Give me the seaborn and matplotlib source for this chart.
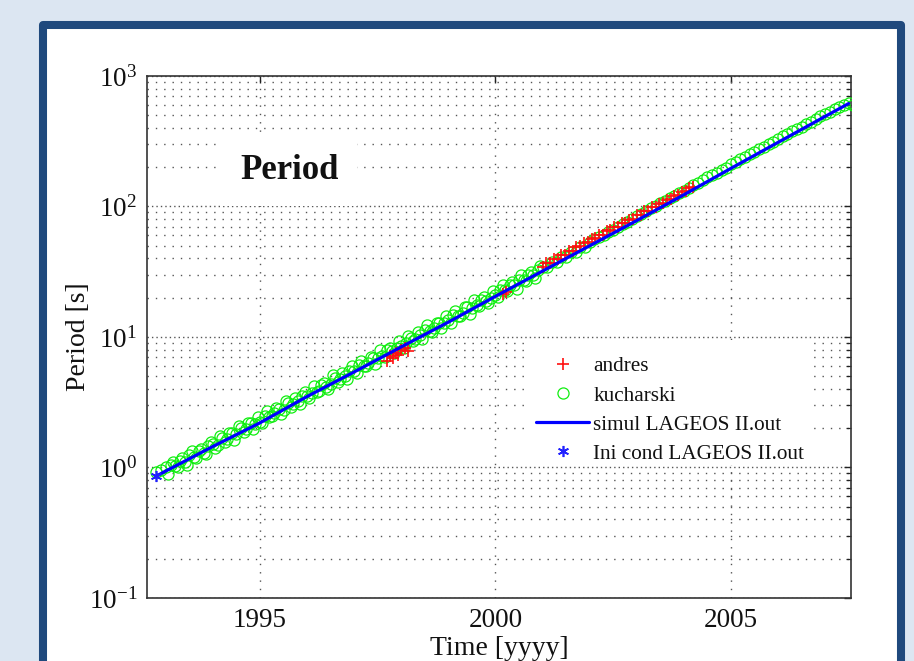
import matplotlib
matplotlib.use("Agg")
import numpy as np
import pandas as pd
import seaborn as sns
import matplotlib.pyplot as plt
from matplotlib.patches import Rectangle
from matplotlib.lines import Line2D
from matplotlib.ticker import LogLocator, FixedLocator, NullFormatter, FuncFormatter

# ---------------- data ----------------
simul_years = [1992.8, 1993.0, 1994.0, 1995.0, 1996.0, 1997.0, 1998.0, 1999.0, 2000.0,
               2001.0, 2002.0, 2003.0, 2004.0, 2005.0, 2006.0, 2007.0, 2007.5]
simul_period = [0.86, 0.94, 1.45, 2.2, 3.5, 5.4, 8.4, 13.0, 20.5,
                32.0, 50.0, 78.0, 123.0, 196.0, 310.0, 490.0, 615.0]

ini_years = [1992.8]
ini_period = [0.86]

kuch_years = [1992.8, 1992.9,
              1993.0, 1993.1, 1993.2, 1993.3, 1993.4, 1993.5, 1993.6, 1993.7, 1993.8, 1993.9,
              1994.0, 1994.1, 1994.2, 1994.3, 1994.4, 1994.5, 1994.6, 1994.7, 1994.8, 1994.9,
              1995.0, 1995.1, 1995.2, 1995.3, 1995.4, 1995.5, 1995.6, 1995.7, 1995.8, 1995.9,
              1996.0, 1996.1, 1996.2, 1996.3, 1996.4, 1996.5, 1996.6, 1996.7, 1996.8, 1996.9,
              1997.0, 1997.1, 1997.2, 1997.3, 1997.4, 1997.5, 1997.6, 1997.7, 1997.8, 1997.9,
              1998.0, 1998.1, 1998.2, 1998.3, 1998.4, 1998.5, 1998.6, 1998.7, 1998.8, 1998.9,
              1999.0, 1999.1, 1999.2, 1999.3, 1999.4, 1999.5, 1999.6, 1999.7, 1999.8, 1999.9,
              2000.0, 2000.1, 2000.2, 2000.3, 2000.4, 2000.5, 2000.6, 2000.7, 2000.8, 2000.9,
              2001.0, 2001.1, 2001.2, 2001.3, 2001.4, 2001.5, 2001.6, 2001.7, 2001.8, 2001.9,
              2002.0, 2002.1, 2002.2, 2002.3, 2002.4, 2002.5, 2002.6, 2002.7, 2002.8, 2002.9,
              2003.0, 2003.1, 2003.2, 2003.3, 2003.4, 2003.5, 2003.6, 2003.7, 2003.8, 2003.9,
              2004.0, 2004.1, 2004.2, 2004.3, 2004.4, 2004.5, 2004.6, 2004.7, 2004.8, 2004.9,
              2005.0, 2005.1, 2005.2, 2005.3, 2005.4, 2005.5, 2005.6, 2005.7, 2005.8, 2005.9,
              2006.0, 2006.1, 2006.2, 2006.3, 2006.4, 2006.5, 2006.6, 2006.7, 2006.8, 2006.9,
              2007.0, 2007.1, 2007.2, 2007.3, 2007.4, 2007.5, 2007.6,
              1993.05, 1993.15, 1993.25, 1993.35, 1993.45, 1993.55, 1993.65, 1993.75, 1993.85, 1993.95,
              1994.05, 1994.15, 1994.25, 1994.35, 1994.45, 1994.55, 1994.65, 1994.75, 1994.85, 1994.95,
              1995.05, 1995.15, 1995.25, 1995.35, 1995.45, 1995.55, 1995.65, 1995.75, 1995.85, 1995.95,
              1996.05, 1996.15, 1996.25, 1996.35, 1996.45, 1996.55, 1996.65, 1996.75, 1996.85, 1996.95,
              1997.05, 1997.15, 1997.25, 1997.35, 1997.45, 1997.55, 1997.65, 1997.75, 1997.85, 1997.95,
              1998.05, 1998.15, 1998.25, 1998.35, 1998.45, 1998.55, 1998.65, 1998.75, 1998.85, 1998.95,
              1999.05, 1999.15, 1999.25, 1999.35, 1999.45, 1999.55, 1999.65, 1999.75, 1999.85, 1999.95,
              2000.05, 2000.15, 2000.25, 2000.35, 2000.45, 2000.55, 2000.65, 2000.75, 2000.85, 2000.95]
kuch_period = [0.92, 0.95,
               1.00, 1.04, 1.02, 1.12, 1.10, 1.24, 1.20, 1.34, 1.30, 1.45,
               1.52, 1.50, 1.68, 1.64, 1.84, 1.80, 2.00, 1.96, 2.18, 2.14,
               2.25, 2.48, 2.44, 2.60, 2.80, 2.78, 3.10, 3.05, 3.25, 3.52,
               3.50, 3.70, 3.82, 4.25, 4.15, 4.40, 4.85, 4.78, 5.02, 5.50,
               5.45, 6.05, 6.00, 6.30, 6.95, 6.85, 7.20, 7.90, 7.80, 8.20,
               8.55, 9.05, 9.90, 9.70, 10.3, 11.3, 11.1, 11.7, 12.9, 12.7,
               13.4, 14.8, 14.6, 15.3, 16.9, 16.7, 17.5, 19.3, 19.0, 20.0,
               21.0, 23.0, 22.8, 25.2, 25.0, 27.5, 27.2, 30.0, 29.8, 32.8,
               34.2, 34.5, 37.5, 37.4, 41.0, 41.0, 44.8, 44.7, 49.0, 49.0,
               53.5, 56.0, 58.5, 61.0, 64.0, 66.5, 70.0, 73.0, 76.5, 80.0,
               84.0, 88.0, 92.0, 97.0, 101.0, 106.0, 111.0, 116.0, 121.0, 126.0,
               132.0, 139.0, 146.0, 152.0, 160.0, 167.0, 174.0, 182.0, 190.0, 198.0,
               210.0, 220.0, 231.0, 241.0, 252.0, 263.0, 275.0, 288.0, 301.0, 314.0,
               328.0, 344.0, 360.0, 376.0, 393.0, 410.0, 428.0, 448.0, 468.0, 490.0,
               510.0, 530.0, 556.0, 580.0, 603.0, 625.0, 600.0,
               0.895, 1.11, 1.01, 1.18, 1.05, 1.34, 1.19, 1.39, 1.26, 1.57,
               1.40, 1.73, 1.58, 1.84, 1.63, 2.09, 1.86, 2.18, 1.97, 2.45,
               2.18, 2.70, 2.46, 2.87, 2.55, 3.25, 2.91, 3.39, 3.07, 3.81,
               3.40, 4.21, 3.83, 4.47, 3.97, 5.07, 4.53, 5.29, 4.79, 5.95,
               5.30, 6.56, 5.98, 6.97, 6.19, 7.91, 7.07, 8.25, 7.48, 9.28,
               8.26, 10.2, 9.32, 10.9, 9.65, 12.3, 11.0, 12.9, 11.7, 14.5,
               12.9, 15.9, 14.5, 16.9, 15.0, 19.2, 17.2, 20.1, 18.2, 22.6,
               20.1, 24.9, 22.7, 26.4, 23.5, 30.0, 26.8, 31.3, 28.3, 35.2]

andres_years = [1997.70, 1997.76, 1997.82, 1997.88, 1997.94, 1998.00, 1998.08, 1998.15,
                2000.15, 2000.22,
                2001.00, 2001.08, 2001.16, 2001.24, 2001.32, 2001.40, 2001.48, 2001.56,
                2001.64, 2001.72, 2001.80, 2001.88, 2001.96, 2002.04, 2002.12, 2002.20,
                2002.28, 2002.36, 2002.44, 2002.52, 2002.60, 2002.68, 2002.76, 2002.84,
                2002.92, 2003.00, 2003.08, 2003.16, 2003.24, 2003.32, 2003.40, 2003.48,
                2003.56, 2003.64, 2003.72, 2003.80, 2003.88, 2003.96, 2004.04, 2004.12,
                2004.20]
andres_period = [6.6, 7.2, 6.9, 7.6, 7.3, 7.9, 8.2, 7.8,
                 21.5, 22.0,
                 34.5, 36.8, 36.6, 39.5, 39.8, 42.5, 42.8, 45.5,
                 46.0, 48.8, 49.5, 52.5, 53.0, 56.5, 57.0, 60.5,
                 61.0, 65.0, 65.5, 69.5, 70.0, 74.5, 75.0, 79.5,
                 80.5, 85.5, 86.5, 92.0, 92.5, 98.5, 99.5, 105.0,
                 106.0, 113.0, 114.0, 121.0, 122.0, 130.0, 131.0, 139.0,
                 141.0]

x_ticks = [1995, 2000, 2005]
y_major = [0.1, 1, 10, 100, 1000]

# ---------------- style ----------------
sns.set_theme(style="white")
plt.rcParams["font.family"] = ["Liberation Serif", "DejaVu Serif"]
plt.rcParams["mathtext.fontset"] = "custom"
plt.rcParams["mathtext.rm"] = "Liberation Serif"
plt.rcParams["mathtext.it"] = "Liberation Serif:italic"
plt.rcParams["mathtext.bf"] = "Liberation Serif:bold"

BG = "#dce6f2"
FRAME = "#1f497d"
RED = "#ff1010"
GREEN = "#10ee10"
BLUE = "#0000ff"

fig = plt.figure(figsize=(9.14, 6.61), dpi=100, facecolor=BG)
panel = Rectangle((43 / 914, -0.1), (901 - 43) / 914, 1 - 25 / 661 + 0.1,
                  transform=fig.transFigure, facecolor="white",
                  edgecolor=FRAME, linewidth=5.8, joinstyle="round", zorder=-10)
fig.patches.append(panel)

ax = fig.add_axes([147 / 914, 1 - 598 / 661, (851 - 147) / 914, (598 - 76) / 661])
ax.set_zorder(1)
ax.set_facecolor("white")

# data series
sns.lineplot(x=kuch_years, y=kuch_period, ax=ax, estimator=None, sort=False,
             linestyle="none", marker="o", markersize=8, markeredgewidth=0.9,
             markerfacecolor="none", markeredgecolor=GREEN, color=GREEN, zorder=3)
sns.lineplot(x=andres_years, y=andres_period, ax=ax, estimator=None, sort=False,
             linestyle="none", marker="+", markersize=8, markeredgewidth=1.2,
             color=RED, markeredgecolor=RED, zorder=3.5)
sns.lineplot(x=simul_years, y=simul_period, ax=ax, estimator=None, sort=False,
             color=BLUE, linewidth=2.3, zorder=4)
sns.lineplot(x=ini_years, y=ini_period, ax=ax, estimator=None, sort=False,
             linestyle="none", marker=(6, 2, 0), markersize=8, markeredgewidth=1.2,
             color="#2020ff", markeredgecolor="#2020ff", zorder=5)

ax.set_yscale("log")
ax.set_xlim(1992.6, 2007.55)
ax.set_ylim(0.1, 1000)

ax.xaxis.set_major_locator(FixedLocator(x_ticks))
ax.set_xticklabels([str(t) for t in x_ticks])
ax.yaxis.set_major_locator(FixedLocator(y_major))
ax.yaxis.set_major_formatter(FuncFormatter(lambda v, p: r"$10^{%d}$" % int(round(np.log10(v)))))
ax.yaxis.set_minor_locator(LogLocator(base=10, subs=np.arange(2, 10), numticks=20))
ax.yaxis.set_minor_formatter(NullFormatter())

ax.tick_params(axis="both", which="both", direction="in", top=True, right=True,
               colors="#222222", labelcolor="#111111")
ax.tick_params(axis="both", which="major", length=5, width=1.0, labelsize=19.5, pad=7)
ax.tick_params(axis="y", which="minor", length=3.5, width=0.9)
ax.tick_params(axis="x", which="minor", bottom=False, top=False)

for s in ax.spines.values():
    s.set_visible(True)
    s.set_color("#333333")
    s.set_linewidth(1.2)

ax.set_axisbelow(True)
ax.xaxis.grid(True, which="major", color="#555555", linewidth=1.0, linestyle=(0, (1, 5)))
ax.yaxis.grid(True, which="major", color="#555555", linewidth=1.0, linestyle=(0, (1, 2.2)))
ax.yaxis.grid(True, which="minor", color="#555555", linewidth=1.0, linestyle=(0, (1, 5)))

ax.set_xlabel("Time [yyyy]", fontsize=20, color="#111111", labelpad=2.5)
ax.set_ylabel("Period [s]", fontsize=20, color="#111111")
ax.yaxis.set_label_coords(-0.080, 0.5)

ax.text(1995.62, 190, "Period", fontsize=25, fontweight="bold", ha="center", va="center",
        color="#111111", zorder=6,
        bbox=dict(boxstyle="square,pad=0.55", facecolor="white", edgecolor="none"))

# white legend box (covers the grid like the original)
ax.add_patch(Rectangle((0.54, 0.255), 0.407, 0.239, transform=ax.transAxes,
                       facecolor="white", edgecolor="none", zorder=2))

handles = [
    Line2D([], [], linestyle="none", marker="+", markersize=8, markeredgewidth=1.2, color=RED),
    Line2D([], [], linestyle="none", marker="o", markersize=8, markeredgewidth=0.9,
           markerfacecolor="none", markeredgecolor=GREEN),
    Line2D([], [], color=BLUE, linewidth=2.3),
    Line2D([], [], linestyle="none", marker=(6, 2, 0), markersize=8, markeredgewidth=1.2, color="#2020ff"),
]
labels = ["andres", "kucharski", "simul LAGEOS II.out", "Ini cond LAGEOS II.out"]
leg = ax.legend(handles, labels, loc="center left", bbox_to_anchor=(0.5526, 0.360),
                borderaxespad=0, borderpad=0, frameon=False, fontsize=15.3,
                handlelength=2.5, handletextpad=0.19, labelspacing=0.43)
leg.set_zorder(7)
for t in leg.get_texts():
    t.set_color("#111111")

fig.savefig("out.png", dpi=100, facecolor=BG)
